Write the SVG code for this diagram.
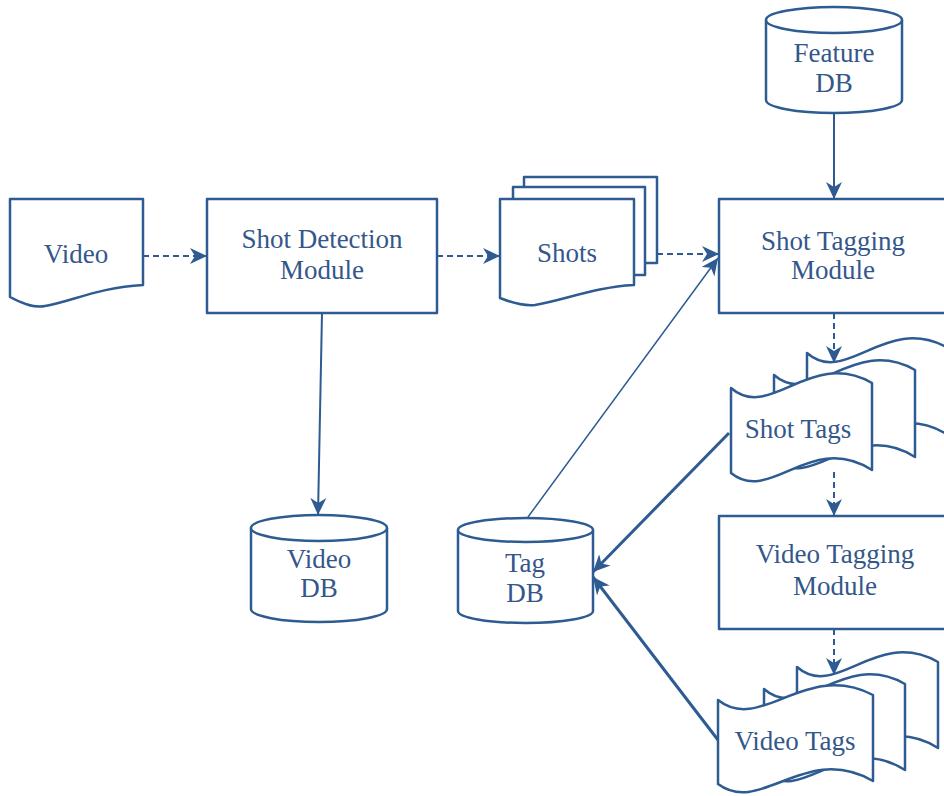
<svg xmlns="http://www.w3.org/2000/svg" xmlns:xlink="http://www.w3.org/1999/xlink" width="944" height="796" viewBox="0 0 944 796">
<style>
.shape{fill:#ffffff;stroke:#2d5b92;stroke-width:2.5;stroke-linejoin:round}
.lbl{font-family:"Liberation Serif","Times New Roman",serif;font-size:27px;fill:#34578a;text-anchor:middle}
.dash{fill:none;stroke:#2d5b92;stroke-width:2;stroke-dasharray:6 4}
.solid{fill:none;stroke:#2d5b92;stroke-width:2}
.thin{fill:none;stroke:#2d5b92;stroke-width:1.5}
.thick{fill:none;stroke:#2d5b92;stroke-width:3}
</style>
<defs>
<marker id="ah" markerUnits="userSpaceOnUse" markerWidth="18" markerHeight="16" refX="17" refY="8" orient="auto" viewBox="0 0 18 16">
<path d="M0,0 L17,8 L0,16 L5,8 Z" fill="#2d5b92"/>
</marker>
<path id="flagA" d="M0,0 C39,34 79,-40 141,-5 L141,82 C79,43 39,117 0,85 Z"/>
<path id="flagB" d="M0,0 C43,34 87,-40 155,-5 L155,81 C87,42 43,116 0,84 Z"/>
<path id="flagC" d="M0,0 C39,34 79,-40 141,-5 L141,81 C79,42 39,116 0,84 Z"/>
</defs>
<rect width="944" height="796" fill="#ffffff"/>

<g id="connectors">
<path class="dash" d="M143,256 L207,256" marker-end="url(#ah)"/>
<path class="dash" d="M437,256 L500,256" marker-end="url(#ah)"/>
<path class="dash" d="M657,254 L719,254" marker-end="url(#ah)"/>
<path class="solid" d="M834,113 L834,199" marker-end="url(#ah)"/>
<path class="solid" d="M322,313 L318,515" marker-end="url(#ah)"/>
<path class="thin" d="M528,517 L718,258" marker-end="url(#ah)"/>
<path class="dash" d="M834,313 L834,363" marker-end="url(#ah)"/>
<path class="dash" d="M834,472 L834,516" marker-end="url(#ah)"/>
<path class="dash" d="M834,629 L834,675" marker-end="url(#ah)"/>
<path class="thick" d="M729,433 L593,572" marker-end="url(#ah)"/>
<path class="thick" d="M718,740 L593,577" marker-end="url(#ah)"/>
</g>

<g id="video">
<path class="shape" d="M10,199 L143,199 L143,285 C100,287 70,302 45,306 C35,308 25,305 10,297 Z"/>
<text class="lbl" x="76" y="263">Video</text>
</g>

<g id="shot-detection">
<rect class="shape" x="207" y="199" width="230" height="114"/>
<text class="lbl" x="322" y="248">Shot Detection</text>
<text class="lbl" x="322" y="279">Module</text>
</g>

<g id="shots">
<rect class="shape" x="524" y="177" width="133" height="86"/>
<rect class="shape" x="513" y="187" width="132" height="88"/>
<path class="shape" d="M500,199 L634,199 L634,285 C595,287 565,300 535,305 C525,306 515,304 500,298 Z"/>
<text class="lbl" x="567" y="262">Shots</text>
</g>

<g id="shot-tagging">
<rect class="shape" x="719" y="199" width="240" height="114"/>
<text class="lbl" x="833" y="250">Shot Tagging</text>
<text class="lbl" x="833" y="279">Module</text>
</g>

<g id="feature-db">
<path class="shape" d="M766,20 L766,100 A68,13 0 0 0 902,100 L902,20"/>
<ellipse class="shape" cx="834" cy="20" rx="68" ry="13"/>
<text class="lbl" x="834" y="62">Feature</text>
<text class="lbl" x="834" y="92">DB</text>
</g>

<g id="video-db">
<path class="shape" d="M251,528 L251,609 A68,13 0 0 0 387,609 L387,528"/>
<ellipse class="shape" cx="319" cy="528" rx="68" ry="13"/>
<text class="lbl" x="319" y="568">Video</text>
<text class="lbl" x="319" y="597">DB</text>
</g>

<g id="tag-db">
<path class="shape" d="M458,530 L458,611 A67.5,12 0 0 0 593,611 L593,530"/>
<ellipse class="shape" cx="525.5" cy="530" rx="67.5" ry="12"/>
<text class="lbl" x="525" y="572">Tag</text>
<text class="lbl" x="525" y="602">DB</text>
</g>

<g id="shot-tags">
<use class="shape" xlink:href="#flagA" href="#flagA" transform="translate(807,353)"/>
<use class="shape" xlink:href="#flagA" href="#flagA" transform="translate(774,375)"/>
<use class="shape" xlink:href="#flagA" href="#flagA" transform="translate(731,388)"/>
<text class="lbl" x="798" y="438">Shot Tags</text>
</g>

<g id="video-tagging">
<rect class="shape" x="719" y="516" width="240" height="113"/>
<text class="lbl" x="835" y="563">Video Tagging</text>
<text class="lbl" x="835" y="595">Module</text>
</g>

<g id="video-tags">
<use class="shape" xlink:href="#flagC" href="#flagC" transform="translate(797,667)"/>
<use class="shape" xlink:href="#flagC" href="#flagC" transform="translate(764,689)"/>
<use class="shape" xlink:href="#flagB" href="#flagB" transform="translate(718,700)"/>
<text class="lbl" x="795" y="750">Video Tags</text>
</g>
</svg>
